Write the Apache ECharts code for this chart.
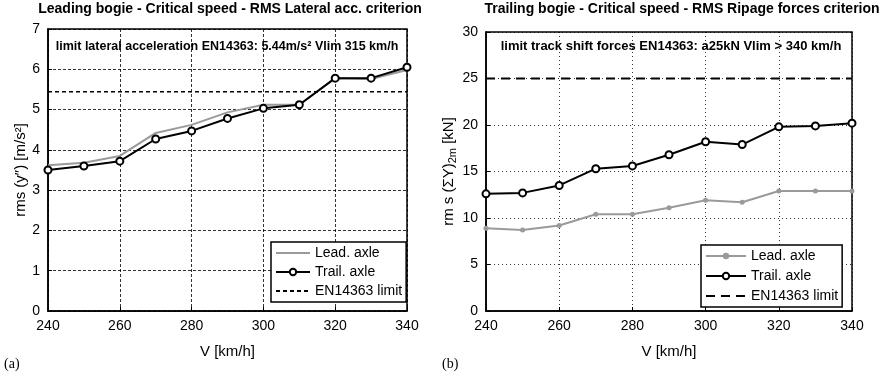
<!DOCTYPE html>
<html><head><meta charset="utf-8">
<script src="https://cdn.jsdelivr.net/npm/echarts@6/dist/echarts.min.js"></script>
<style>html,body{margin:0;padding:0;background:#fff}#c{width:886px;height:377px}</style>
</head><body><div id="c"></div>
<script>
// ---- data ----
const speeds = [240, 250, 260, 270, 280, 290, 300, 310, 320, 330, 340];
const accLead  = [3.62, 3.68, 3.85, 4.42, 4.62, 4.93, 5.12, 5.12, 5.78, 5.76, 5.98];
const accTrail = [3.50, 3.60, 3.72, 4.27, 4.47, 4.78, 5.03, 5.12, 5.78, 5.78, 6.05];
const accLimit = 5.44;
const forceLead  = [8.9, 8.7, 9.2, 10.4, 10.4, 11.1, 11.9, 11.7, 12.9, 12.9, 12.9];
const forceTrail = [12.6, 12.7, 13.5, 15.3, 15.6, 16.8, 18.2, 17.9, 19.8, 19.9, 20.2];
const forceLimit = 25;
const xTicks = [240, 260, 280, 300, 320, 340];
const accTicks = [0, 1, 2, 3, 4, 5, 6, 7];
const forceTicks = [0, 5, 10, 15, 20, 25, 30];

const pair = arr => speeds.map((v, i) => [v, arr[i]]);
const limitLine = val => [[speeds[0], val], [speeds[speeds.length - 1], val]];

const FONT = '"Liberation Sans", Arial, Helvetica, sans-serif';
const GRAY = '#9a9a9a';

function xAxis(gridIndex, dashType) {
  return {
    type: 'value', gridIndex, min: xTicks[0], max: xTicks[xTicks.length - 1], interval: xTicks[1] - xTicks[0],
    name: 'V [km/h]', nameLocation: 'middle', nameGap: 33,
    nameTextStyle: { fontFamily: FONT, fontSize: 15, color: '#000' },
    axisLine: { show: true, lineStyle: { color: '#000', width: 1.5 } },
    axisTick: { show: true, inside: true, length: 4, lineStyle: { color: '#000' } },
    axisLabel: { fontFamily: FONT, fontSize: 14, color: '#000', margin: 8 },
    splitLine: { show: true, lineStyle: { color: '#000', width: 0.8, type: dashType } }
  };
}
function yAxis(gridIndex, ticks, name, gap, dashType) {
  return {
    type: 'value', gridIndex, min: ticks[0], max: ticks[ticks.length - 1], interval: ticks[1] - ticks[0],
    name, nameLocation: 'middle', nameGap: gap, nameRotate: 90,
    nameTextStyle: { fontFamily: FONT, fontSize: 15, color: '#000',
      rich: { a: { fontFamily: FONT, fontSize: 15, color: '#000' },
              sub: { fontFamily: FONT, fontSize: 11, color: '#000', padding: [8, 0, 0, 0] } } },
    axisLine: { show: true, lineStyle: { color: '#000', width: 1.5 } },
    axisTick: { show: true, inside: true, length: 4, lineStyle: { color: '#000' } },
    axisLabel: { fontFamily: FONT, fontSize: 14, color: '#000', margin: 8 },
    splitLine: { show: true, lineStyle: { color: '#000', width: 0.8, type: dashType } }
  };
}
const ZW = '\u200b';
const legendBase = {
  orient: 'vertical', itemWidth: 34, itemHeight: 8, itemGap: 5,
  padding: [4, 4, 4, 4], borderColor: '#000', borderWidth: 1.5, backgroundColor: '#fff',
  textStyle: { fontFamily: FONT, fontSize: 14, color: '#000' }, selectedMode: false, z: 10
};
const noMark = { itemStyle: { opacity: 0 } };

const option = {
  animation: false,
  backgroundColor: '#fff',
  grid: [
    { left: 48, right: 479, top: 29, bottom: 66, show: true, borderColor: '#000', borderWidth: 1.5 },
    { left: 486, right: 34, top: 32, bottom: 66, show: true, borderColor: '#000', borderWidth: 1.5 }
  ],
  xAxis: [xAxis(0, [3, 2]), xAxis(1, [1, 3])],
  yAxis: [
    yAxis(0, accTicks, 'rms (y\u2033) [m/s\u00b2]', 20, [3, 2]),
    yAxis(1, forceTicks, '{a|rm s (\u03a3Y)}{sub|2m}{a| [kN]}', 28, [1, 3])
  ],
  legend: [
    Object.assign({}, legendBase, { left: 271, top: 242, data: [
      Object.assign({ name: 'Lead. axle' }, noMark), 'Trail. axle', Object.assign({ name: 'EN14363 limit' }, noMark)] }),
    Object.assign({}, legendBase, { left: 701, top: 245, itemWidth: 40, itemGap: 6, data: [
      'Lead. axle' + ZW, 'Trail. axle' + ZW, Object.assign({ name: 'EN14363 limit' + ZW }, noMark)] })
  ],
  series: [
    { name: 'Lead. axle', type: 'line', xAxisIndex: 0, yAxisIndex: 0, data: pair(accLead), symbol: 'none',
      lineStyle: { color: GRAY, width: 2 }, itemStyle: { color: GRAY } },
    { name: 'Trail. axle', type: 'line', xAxisIndex: 0, yAxisIndex: 0, data: pair(accTrail), symbol: 'emptyCircle', symbolSize: 7,
      lineStyle: { color: '#000', width: 2 }, itemStyle: { color: '#000', borderWidth: 1.8, borderColor: '#000' } },
    { name: 'EN14363 limit', type: 'line', xAxisIndex: 0, yAxisIndex: 0, data: limitLine(accLimit), symbol: 'none',
      lineStyle: { color: '#000', width: 1.5, type: [4, 3] }, itemStyle: { color: '#000' } },
    { name: 'Lead. axle' + ZW, type: 'line', xAxisIndex: 1, yAxisIndex: 1, data: pair(forceLead), symbol: 'circle', symbolSize: 5,
      lineStyle: { color: GRAY, width: 2 }, itemStyle: { color: GRAY } },
    { name: 'Trail. axle' + ZW, type: 'line', xAxisIndex: 1, yAxisIndex: 1, data: pair(forceTrail), symbol: 'emptyCircle', symbolSize: 7,
      lineStyle: { color: '#000', width: 2 }, itemStyle: { color: '#000', borderWidth: 1.8, borderColor: '#000' } },
    { name: 'EN14363 limit' + ZW, type: 'line', xAxisIndex: 1, yAxisIndex: 1, data: limitLine(forceLimit), symbol: 'none',
      lineStyle: { color: '#000', width: 2, type: [9, 6] }, itemStyle: { color: '#000' } }
  ],
  graphic: [
    { type: 'text', x: 230, y: 2, style: { text: 'Leading bogie - Critical speed - RMS Lateral acc. criterion', font: 'bold 14px ' + FONT, fill: '#000', textAlign: 'center' } },
    { type: 'text', x: 682, y: 2, style: { text: 'Trailing bogie - Critical speed - RMS Ripage forces criterion', font: 'bold 14px ' + FONT, fill: '#000', textAlign: 'center' } },
    { type: 'text', x: 227, y: 40, z: 5, style: { text: 'limit lateral acceleration EN14363: 5.44m/s\u00b2 Vlim 315 km/h', font: 'bold 12.5px ' + FONT, fill: '#000', textAlign: 'center' } },
    { type: 'text', x: 671, y: 40, z: 5, style: { text: 'limit track shift forces EN14363: a25kN Vlim > 340 km/h', font: 'bold 13px ' + FONT, fill: '#000', textAlign: 'center' } },
    { type: 'text', x: 4, y: 357, style: { text: '(a)', font: '14px "Liberation Serif", "Times New Roman", serif', fill: '#000' } },
    { type: 'text', x: 442, y: 357, style: { text: '(b)', font: '14px "Liberation Serif", "Times New Roman", serif', fill: '#000' } }
  ]
};
const chart = echarts.init(document.getElementById('c'), null, { renderer: 'canvas' });
chart.setOption(option);
</script>
</body></html>
